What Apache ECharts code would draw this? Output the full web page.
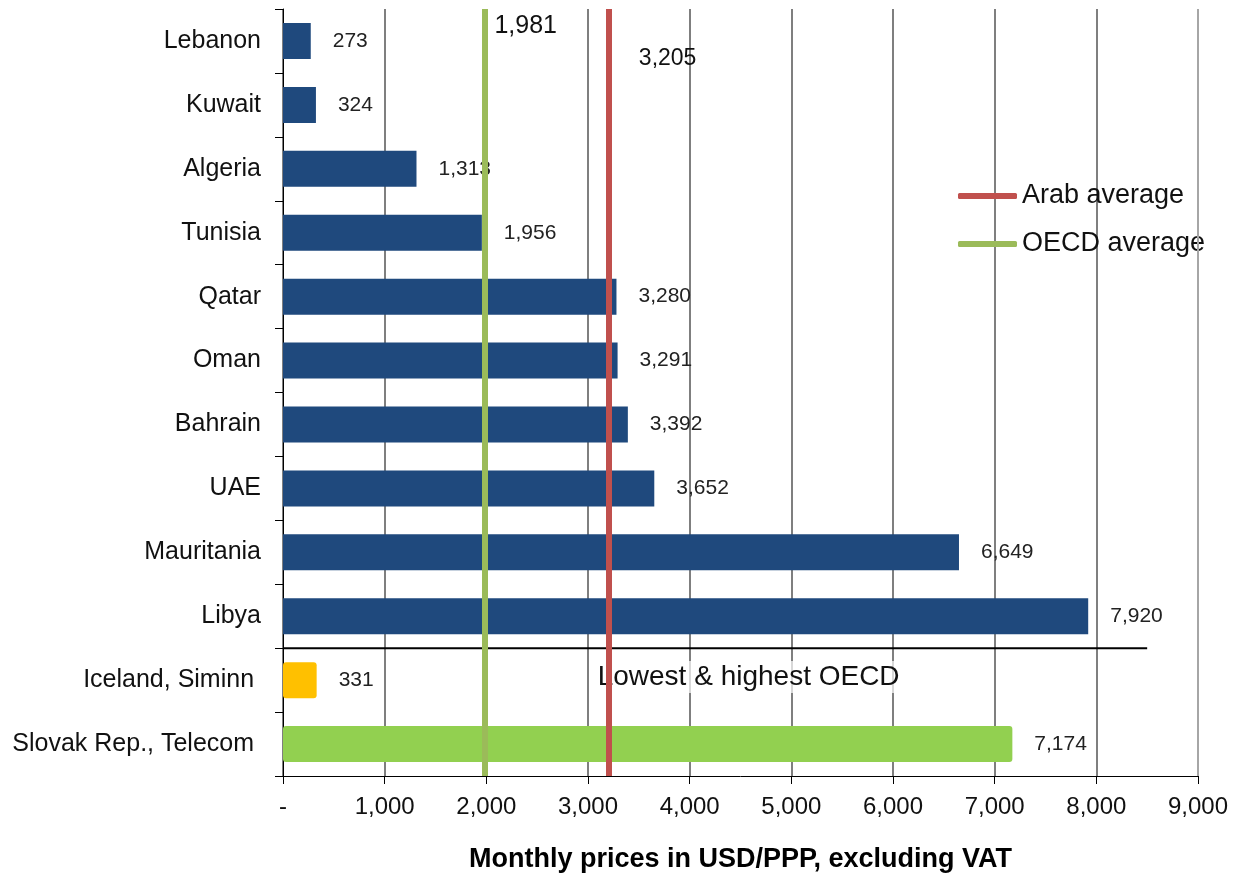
<!DOCTYPE html>
<html><head><meta charset="utf-8">
<script src="https://cdn.jsdelivr.net/npm/echarts@6/dist/echarts.min.js"></script>
<style>html,body{margin:0;padding:0;background:#fff}#c{width:1233px;height:878px}</style>
</head><body><div id="c"></div>
<script>
// ---- data ----
const categories = ['Lebanon','Kuwait','Algeria','Tunisia','Qatar','Oman','Bahrain','UAE','Mauritania','Libya','Iceland, Siminn','Slovak Rep., Telecom'];
const arabPrices = [273, 324, 1313, 1956, 3280, 3291, 3392, 3652, 6649, 7920];
const oecdPrices = [331, 7174];
const arabAverage = 3205;
const oecdAverage = 1981;
const legendNames = ['Arab average', 'OECD average'];
const separatorEnd = 8500;
const axisMax = 9000;
const axisStep = 1000;
const axisTitle = 'Monthly prices in USD/PPP, excluding VAT';
const noteText = 'Lowest & highest OECD';

// ---- styles ----
const FONT = '"Liberation Sans", Arial, sans-serif';
const arabColor = '#1F497D';
const oecdColors = ['#FFC000', '#92D050'];
const redLine = '#C0504D';
const greenLine = '#9BBB59';
const fmt = v => Number(v).toLocaleString('en-US');

const barData = arabPrices.map(v => ({ value: v }))
  .concat(oecdPrices.map((v, i) => ({ value: v, itemStyle: { color: oecdColors[i], borderRadius: 3 } })));

const noteLabel = (text, size, extra) => Object.assign({
  show: true, formatter: text, fontSize: size, color: '#111', opacity: 1, fontFamily: FONT
}, extra);

const chart = echarts.init(document.getElementById('c'), null, { renderer: 'canvas' });
chart.setOption({
  animation: false,
  textStyle: { fontFamily: FONT },
  grid: { left: 283, right: 35, top: 9, bottom: 101, containLabel: false },
  legend: {
    data: legendNames, orient: 'vertical', left: 953, top: 176,
    itemWidth: 59, itemHeight: 6, itemGap: 18, icon: 'roundRect',
    textStyle: { fontSize: 27, color: '#111', lineHeight: 30, fontFamily: FONT }
  },
  xAxis: {
    type: 'value', min: 0, max: axisMax, interval: axisStep,
    axisLine: { show: true, onZero: false, lineStyle: { color: '#000', width: 1 } },
    axisTick: { show: true, length: 8, lineStyle: { color: '#000' } },
    axisLabel: { formatter: v => v === 0 ? '-' : fmt(v), fontSize: 24, color: '#111', margin: 19, fontFamily: FONT },
    splitLine: { show: true, showMaxLine: false, lineStyle: { color: '#555', width: 1.5 } },
    name: axisTitle, nameLocation: 'middle', nameGap: 70,
    nameTextStyle: { fontSize: 27, fontWeight: 'bold', color: '#000', fontFamily: FONT }
  },
  yAxis: [{
    type: 'category', data: categories, inverse: true,
    axisLine: { show: true, onZero: false, lineStyle: { color: '#000', width: 1 } },
    axisTick: { show: true, length: 8, lineStyle: { color: '#000' } },
    axisLabel: { fontSize: 25, color: '#111', margin: 22, fontFamily: FONT,
      formatter: (v, i) => i >= arabPrices.length ? v + ' ' : v }
  }, {
    type: 'value', min: 0, max: categories.length, inverse: true, show: false
  }],
  series: [
    {
      name: 'prices', type: 'bar', data: barData, barWidth: 36, z: 2,
      itemStyle: { color: arabColor },
      label: { show: true, position: 'right', distance: 22, formatter: p => fmt(p.value),
        fontSize: 21, color: '#222', fontFamily: FONT }
    },
    {
      name: legendNames[0], type: 'line', data: [], z: 2,
      itemStyle: { color: redLine }, lineStyle: { color: redLine, width: 6 },
      markLine: { silent: true, symbol: 'none', label: { show: false },
        lineStyle: { color: redLine, width: 6, type: 'solid' }, data: [{ xAxis: arabAverage }] }
    },
    {
      name: legendNames[1], type: 'line', data: [], z: 2,
      itemStyle: { color: greenLine }, lineStyle: { color: greenLine, width: 6 },
      markLine: { silent: true, symbol: 'none', label: { show: false },
        lineStyle: { color: greenLine, width: 6, type: 'solid' }, data: [{ xAxis: oecdAverage }] }
    },
    {
      name: 'separator', type: 'line', xAxisIndex: 0, yAxisIndex: 1, z: 2, silent: true,
      symbol: 'none', lineStyle: { color: '#000', width: 2 },
      data: [[0, arabPrices.length], [separatorEnd, arabPrices.length]],
      markLine: { silent: true, symbol: 'none', label: { show: false },
        lineStyle: { color: '#a6a6a6', width: 2, type: 'solid' }, data: [{ xAxis: axisMax }] }
    },
    {
      name: 'notes', type: 'scatter', xAxisIndex: 0, yAxisIndex: 1, z: 4, silent: true,
      symbolSize: 0, itemStyle: { opacity: 1 },
      data: [
        { value: [oecdAverage, 0.26], label: noteLabel(fmt(oecdAverage), 25, { position: 'right', distance: 10 }) },
        { value: [arabAverage, 0.78], label: noteLabel(fmt(arabAverage), 23, { position: 'right', distance: 30 }) },
        { value: [4580, 10.45], label: noteLabel(noteText, 28, { position: 'inside',
          backgroundColor: 'rgba(255,255,255,0.7)', padding: [2, 1] }) }
      ]
    }
  ]
});
</script></body></html>
